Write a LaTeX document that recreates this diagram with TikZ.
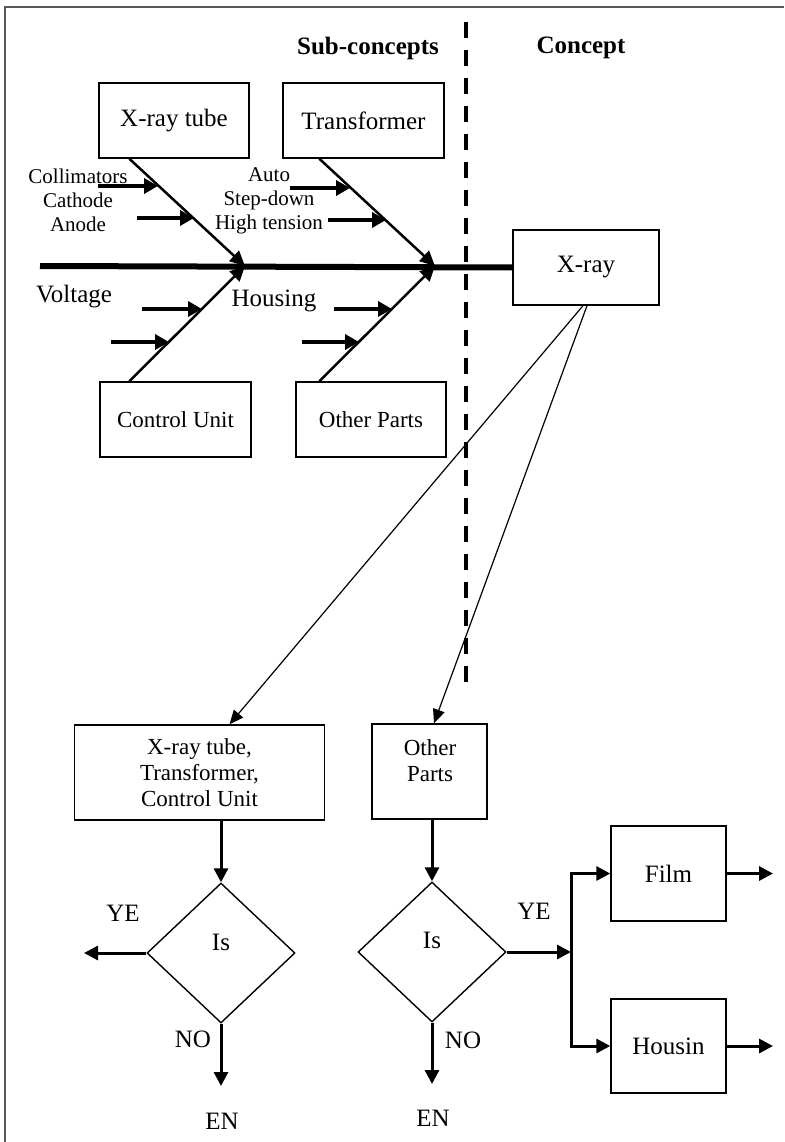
\documentclass[tikz,border=0pt]{standalone}
\usepackage{fontspec}
\setmainfont{Liberation Serif}
\usetikzlibrary{arrows.meta,shapes.geometric,calc}
\begin{document}
\begin{tikzpicture}[x=1pt,y=-1pt,
  tbox/.style={draw, line width=1.4pt, rectangle, inner sep=0pt, align=center},
  big/.style={font=\fontsize{25}{28}\selectfont},
  mid/.style={font=\fontsize{23}{26}\selectfont},
  small/.style={font=\fontsize{21}{24}\selectfont},
  head/.style={font=\fontsize{25}{28}\selectfont\bfseries},
  spine/.style={line width=6pt},
  bone/.style={line width=2.5pt, -{Triangle[length=15pt,width=14pt]}},
  rib/.style={line width=4pt, -{Triangle[length=14pt,width=15pt]}},
  thinarrow/.style={line width=1.2pt, -{Triangle[length=14pt,width=12pt]}},
  flow/.style={line width=3pt, -{Triangle[length=14pt,width=14pt]}},
  divider/.style={line width=4.5pt, dash pattern=on 16pt off 12pt},
  dia/.style={draw, diamond, line width=1.4pt, inner sep=0pt, minimum width=148pt, minimum height=140pt, aspect=1.06},
  lbl/.style={inner sep=0pt, align=center}
]
\useasboundingbox (0,0) rectangle (784,1142);
% partial frame
\draw[line width=1.5pt, gray!70!black] (5,1142) -- (5,7) -- (784,7);

% headings
\node[head, lbl] (hsub) at (368,48) {Sub-concepts};
\node[head, lbl] (hcon) at (581,48) {Concept};

% dashed divider
\draw[divider] (466,22) -- (466,692);

% boxes of fishbone
\node[tbox, big, minimum width=150pt, minimum height=75pt] (xtube) at (174,120.5) {X-ray tube};
\node[tbox, big, minimum width=161pt, minimum height=75pt] (transf) at (363.5,120.5) {Transformer};
\node[tbox, big, minimum width=146pt, minimum height=75pt] (xray) at (586,267.5) {X-ray};
\node[tbox, mid, minimum width=151pt, minimum height=75pt] (ctrl) at (175.5,419.5) {Control Unit};
\node[tbox, mid, minimum width=150pt, minimum height=75pt] (other) at (371,419.5) {Other Parts};

% spine
\coordinate (j1) at (245,266);
\coordinate (j2) at (435,266);
\draw[spine] (40,266) -- (xray.west);

% bones
\draw[bone] ([xshift=31pt]xtube.south west) -- (j1);
\draw[bone] ([xshift=37pt]transf.south west) -- (j2);
\draw[bone] ([xshift=30pt]ctrl.north west) -- (j1);
\draw[bone] ([xshift=24pt]other.north west) -- (j2);

% ribs
\draw[rib] (98,186) -- (158,186);
\draw[rib] (137,218) -- (194,218);
\draw[rib] (290,188) -- (350,188);
\draw[rib] (328,220) -- (386,220);
\draw[rib] (142,309) -- (202,309);
\draw[rib] (111,342) -- (169,342);
\draw[rib] (334,309) -- (392,309);
\draw[rib] (302,342) -- (359,342);

% rib labels
\node[small, lbl] (la) at (78,200) {Collimators\\Cathode\\Anode};
\node[small, lbl] (lb) at (269,201) {Auto\\Step-down\\High tension};
\node[big, lbl] (lv) at (74,297) {Voltage};
\node[big, lbl] (lh) at (274,301) {Housing};

% lower flowchart boxes
\node[tbox, mid, minimum width=250pt, minimum height=95pt] (box1) at (199.5,772.5) {X-ray tube,\\Transformer,\\Control Unit};
\node[tbox, minimum width=115pt, minimum height=95pt] (box2) at (429.5,771.5) {};
\node[mid, lbl] (box2t) at (430,761) {Other\\Parts};

\draw[thinarrow] ([xshift=-3pt]xray.south) -- ([xshift=30pt]box1.north);
\draw[thinarrow] ([xshift=1pt]xray.south) -- ([xshift=4.5pt]box2.north);

% diamonds
\node[dia] (d1) at (221,953) {};
\node[dia] (d2) at (432,952) {};
\node[big, lbl] (d1t) at (221,942) {Is};
\node[big, lbl] (d2t) at (432,940) {Is};

\draw[flow] (d1.north |- box1.south) -- (d1.north);
\draw[flow] (d2.north |- box2.south) -- (d2.north);

\coordinate (yl) at (84,953);
\coordinate (n1) at (221,1086);
\coordinate (n2) at (432,1084);
\draw[flow] (d1.west) -- (yl);
\draw[flow] (d1.south) -- (n1);
\draw[flow] (d2.south) -- (n2);

% film / housin
\node[tbox, big, minimum width=115pt, minimum height=95pt] (film) at (668.5,873.5) {Film};
\node[tbox, big, minimum width=115pt, minimum height=94pt] (housin) at (668.5,1046) {Housin};
\coordinate (jn) at (571,952);
\draw[flow] (d2.east) -- (jn);
\draw[flow] (jn) |- (film.west);
\draw[flow] (jn) |- (housin.west);
\coordinate (fo) at (773,873.5);
\coordinate (ho) at (773,1046);
\draw[flow] (film.east) -- (fo);
\draw[flow] (housin.east) -- (ho);

% flow labels
\node[big, lbl] (ye1) at (123,913) {YE};
\node[big, lbl] (no1) at (193,1039) {NO};
\node[big, lbl] (en1) at (222,1121) {EN};
\node[big, lbl] (ye2) at (534,911) {YE};
\node[big, lbl] (no2) at (463,1040) {NO};
\node[big, lbl] (en2) at (433,1118) {EN};
\end{tikzpicture}
\end{document}
